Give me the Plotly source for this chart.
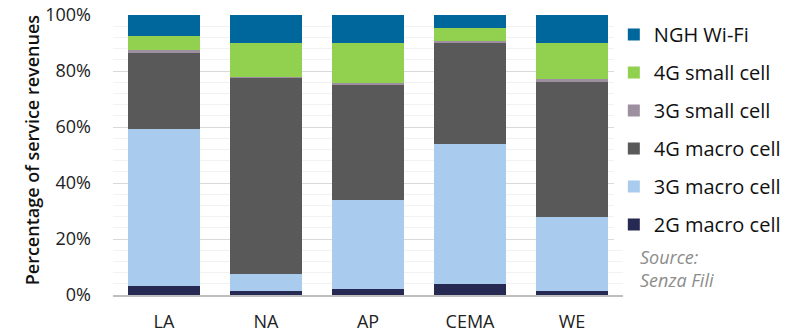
import plotly.graph_objects as go

regions = ["LA", "NA", "AP", "CEMA", "WE"]
series_names = ["2G macro cell", "3G macro cell", "4G macro cell", "3G small cell", "4G small cell", "NGH Wi-Fi"]
g2_macro = [3.3, 1.5, 2.3, 3.9, 1.4]
g3_macro = [56.0, 5.9, 31.7, 50.1, 26.6]
g4_macro = [27.2, 70.1, 41.1, 35.9, 48.2]
g3_small = [1.0, 0.2, 0.5, 0.8, 0.8]
g4_small = [5.0, 12.3, 14.4, 4.5, 13.0]
ngh_wifi = [7.5, 10.0, 10.0, 4.8, 10.0]
colors = ["#262A52", "#A9CBEE", "#595959", "#9E8FA0", "#92D050", "#00679C"]

FONT = "Open Sans"
fig = go.Figure()
for i, (name, vals, col) in enumerate(zip(series_names,
                           [g2_macro, g3_macro, g4_macro, g3_small, g4_small, ngh_wifi],
                           colors)):
    fig.add_trace(go.Bar(x=regions, y=vals, name=name, marker_color=col,
                         marker_line_width=0, legendgroup=name, width=0.71,
                         legendrank=1000 - i))

fig.update_layout(
    barmode="stack",
    width=793, height=334,
    margin=dict(l=113, r=170, t=15, b=39, autoexpand=False),
    plot_bgcolor="white", paper_bgcolor="white",
    font=dict(family=FONT, size=16, color="#222222"),
    showlegend=True,
    legend=dict(traceorder="grouped", x=0.982, xanchor="left", y=1.0, yanchor="top",
                font=dict(family=FONT, size=20, color="#111111"),
                tracegroupgap=9, itemwidth=30),
    bargap=0.29,
)
fig.update_yaxes(range=[0, 100], dtick=20, ticksuffix="%", automargin=False,
                 showgrid=True, gridcolor="#D9D9D9", gridwidth=1,
                 minor=dict(dtick=4, showgrid=True, gridcolor="#F2F2F2", gridwidth=1),
                 zeroline=False, showline=False, ticklabelstandoff=21,
                 tickfont=dict(family=FONT, size=18, color="#222222"))
fig.update_xaxes(showline=True, linecolor="#BFBFBF", linewidth=2, showgrid=False,
                 ticklabelstandoff=9, automargin=False,
                 tickfont=dict(family=FONT, size=18, color="#222222"))
fig.add_annotation(xref="paper", yref="paper", x=-0.159, y=0.52, xanchor="center", yanchor="middle",
                   text="Percentage of service revenues", textangle=-90, showarrow=False,
                   font=dict(family=FONT, size=18, color="#111111", weight=600))
fig.add_annotation(xref="paper", yref="paper", x=1.03, y=0.093, xanchor="left", yanchor="middle",
                   text="<i>Source:<br>Senza Fili</i>", showarrow=False, align="left",
                   font=dict(family=FONT, size=18, color="#8C8C8C"))
fig.write_html("out.html")
